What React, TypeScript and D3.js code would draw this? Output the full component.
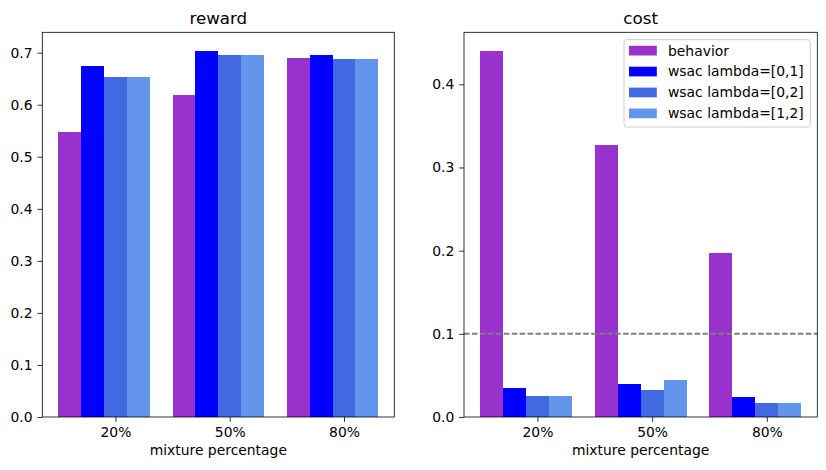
import { useEffect, useRef } from "react";
import * as d3 from "d3";

// mixture percentages on the x axis
const categories = ["20%", "50%", "80%"];
const seriesNames = ["behavior", "wsac lambda=[0,1]", "wsac lambda=[0,2]", "wsac lambda=[1,2]"];
const seriesColors = ["#9932cc", "#0000ff", "#4169e1", "#6495ed"];

// reward panel
const rewardBehavior = [0.547, 0.618, 0.689];
const rewardWsac01 = [0.675, 0.704, 0.695];
const rewardWsac02 = [0.654, 0.695, 0.687];
const rewardWsac12 = [0.654, 0.695, 0.687];

// cost panel
const costBehavior = [0.4405, 0.327, 0.197];
const costWsac01 = [0.035, 0.04, 0.024];
const costWsac02 = [0.025, 0.032, 0.017];
const costWsac12 = [0.025, 0.044, 0.017];
const costLimit = 0.1;

const rewardTicks = [0, 0.1, 0.2, 0.3, 0.4, 0.5, 0.6, 0.7];
const costTicks = [0, 0.1, 0.2, 0.3, 0.4];

const barWidth = 0.2;
const barOffsets = [-0.4, -0.2, 0, 0.2];

const W = 826;
const H = 470;
const FONT = "DejaVu Sans, sans-serif";

type Panel = {
  title: string;
  series: number[][];
  ticks: number[];
  left: number;
  right: number;
  limit?: number;
  legend?: boolean;
};

const App: React.FC = () => {
  const svgRef = useRef<SVGSVGElement | null>(null);

  useEffect(() => {
    if (!svgRef.current) return;
    const root = d3.select(svgRef.current);
    root.selectAll("*").remove();

    const top = 32.3;
    const bottom = 417;

    const panels: Panel[] = [
      {
        title: "reward",
        series: [rewardBehavior, rewardWsac01, rewardWsac02, rewardWsac12],
        ticks: rewardTicks,
        left: 42.3,
        right: 394.3,
      },
      {
        title: "cost",
        series: [costBehavior, costWsac01, costWsac02, costWsac12],
        ticks: costTicks,
        left: 464,
        right: 817.3,
        limit: costLimit,
        legend: true,
      },
    ];

    panels.forEach((p) => {
      // x 范围: bars span -0.5 .. 2.3, plus 5% margin
      const xMin = -0.5;
      const xMax = categories.length - 1 + 0.3;
      const xPad = (xMax - xMin) * 0.05;
      const x = d3
        .scaleLinear()
        .domain([xMin - xPad, xMax + xPad])
        .range([p.left, p.right]);

      const maxVal = d3.max(p.series.flat()) as number;
      const y = d3
        .scaleLinear()
        .domain([0, maxVal * 1.05])
        .range([bottom, top]);

      const g = root.append("g");

      // bars
      p.series.forEach((vals, si) => {
        g.selectAll(null)
          .data(vals)
          .enter()
          .append("rect")
          .attr("x", (_d, i) => x(i + barOffsets[si] - barWidth / 2))
          .attr("width", (_d, i) => x(i + barOffsets[si] + barWidth / 2) - x(i + barOffsets[si] - barWidth / 2))
          .attr("y", (d) => y(d))
          .attr("height", (d) => y(0) - y(d))
          .attr("fill", seriesColors[si])
          .attr("shape-rendering", "crispEdges");
      });

      // dashed limit line
      if (p.limit !== undefined) {
        g.append("line")
          .attr("x1", p.left)
          .attr("x2", p.right)
          .attr("y1", y(p.limit))
          .attr("y2", y(p.limit))
          .attr("stroke", "#808080")
          .attr("stroke-width", 2)
          .attr("stroke-dasharray", "5.55 2.4");
      }

      // frame
      g.append("rect")
        .attr("x", p.left)
        .attr("y", top)
        .attr("width", p.right - p.left)
        .attr("height", bottom - top)
        .attr("fill", "none")
        .attr("stroke", "#000")
        .attr("stroke-width", 0.8);

      // y axis
      const yAxis = g
        .append("g")
        .attr("transform", `translate(${p.left},0)`)
        .call(
          d3
            .axisLeft(y)
            .tickValues(p.ticks)
            .tickFormat(d3.format(".1f"))
            .tickSize(4.86)
            .tickPadding(4.86)
        );
      yAxis.select(".domain").remove();
      yAxis.selectAll("line").attr("stroke", "#000").attr("stroke-width", 0.8);
      yAxis.selectAll("text").attr("font-family", FONT).attr("font-size", 13.9).attr("fill", "#000");

      // x axis
      const xAxis = g
        .append("g")
        .attr("transform", `translate(0,${bottom})`)
        .call(
          d3
            .axisBottom(x)
            .tickValues(categories.map((_c, i) => i))
            .tickFormat((_d, i) => categories[i])
            .tickSize(4.86)
            .tickPadding(4.86)
        );
      xAxis.select(".domain").remove();
      xAxis.selectAll("line").attr("stroke", "#000").attr("stroke-width", 0.8);
      xAxis.selectAll("text").attr("font-family", FONT).attr("font-size", 13.9).attr("fill", "#000");

      // x label
      g.append("text")
        .attr("x", (p.left + p.right) / 2)
        .attr("y", 455)
        .attr("text-anchor", "middle")
        .attr("font-family", FONT)
        .attr("font-size", 13.9)
        .text("mixture percentage");

      // title
      g.append("text")
        .attr("x", (p.left + p.right) / 2)
        .attr("y", 24)
        .attr("text-anchor", "middle")
        .attr("font-family", FONT)
        .attr("font-size", 16.7)
        .text(p.title);

      // legend
      if (p.legend) {
        const lg = g.append("g");
        lg.append("rect")
          .attr("x", 624)
          .attr("y", 39.7)
          .attr("width", 186.3)
          .attr("height", 87.3)
          .attr("rx", 2.8)
          .attr("fill", "#fff")
          .attr("fill-opacity", 0.8)
          .attr("stroke", "#cccccc")
          .attr("stroke-width", 1);
        seriesNames.forEach((name, si) => {
          const cy = 50.7 + si * 20.9;
          lg.append("rect")
            .attr("x", 629)
            .attr("y", cy - 4.9)
            .attr("width", 27.8)
            .attr("height", 9.7)
            .attr("fill", seriesColors[si]);
          lg.append("text")
            .attr("x", 668)
            .attr("y", cy)
            .attr("dy", "0.35em")
            .attr("font-family", FONT)
            .attr("font-size", 13.9)
            .text(name);
        });
      }
    });
  }, []);

  return (
    <>
      <style>{"body{margin:0}"}</style>
      <svg ref={svgRef} width={W} height={H} style={{ display: "block", background: "#fff" }}></svg>
    </>
  );
};

export default App;
